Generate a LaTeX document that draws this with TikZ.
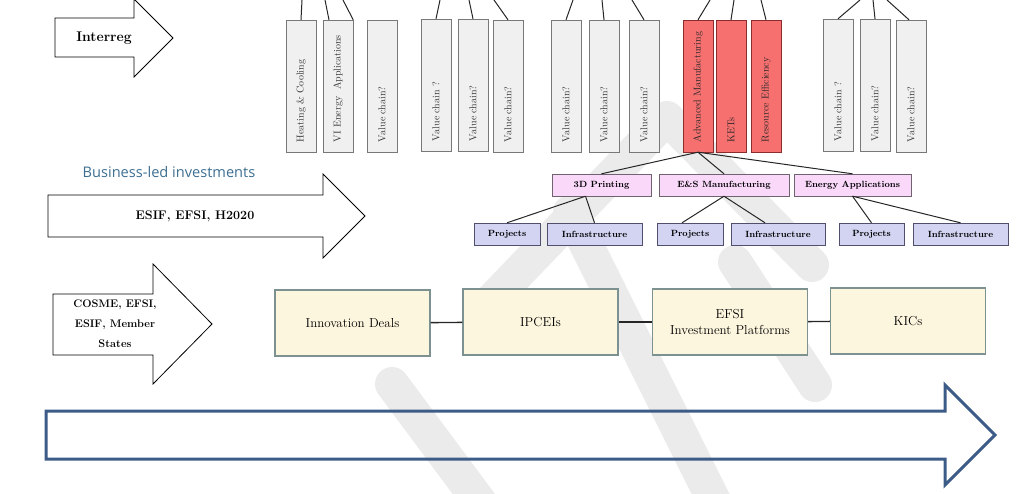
\documentclass[tikz,border=0pt]{standalone}
\usepackage{fontspec}
\newfontfamily\bizfont{Open Sans}
\usepackage{xcolor}
\usepackage{tikz}
\usetikzlibrary{calc,positioning}
\definecolor{chainFill}{RGB}{240,240,240}
\definecolor{chainLine}{RGB}{120,120,120}
\definecolor{ketFill}{RGB}{246,112,112}
\definecolor{ketLine}{RGB}{140,45,45}
\definecolor{techFill}{RGB}{250,216,250}
\definecolor{techLine}{RGB}{110,100,110}
\definecolor{projFill}{RGB}{210,212,242}
\definecolor{projLine}{RGB}{80,80,110}
\definecolor{dealFill}{RGB}{253,246,222}
\definecolor{dealLine}{RGB}{125,145,145}
\definecolor{timeLine}{RGB}{60,92,135}
\definecolor{bizText}{RGB}{60,110,145}
\colorlet{markGray}{gray!16}

\tikzset{
  chainbox/.style={draw=chainLine, fill=chainFill, minimum width=30pt, minimum height=132pt, inner sep=0pt},
  ketbox/.style={chainbox, draw=ketLine, fill=ketFill},
  chaintext/.style={rotate=90, anchor=west, inner sep=0pt, text=black!80, font=\fontsize{10}{11}\selectfont},
  techbox/.style={draw=techLine, fill=techFill, minimum height=22pt, inner sep=0pt, font=\fontsize{9}{10}\selectfont\bfseries},
  projbox/.style={techbox, draw=projLine, fill=projFill},
  dealbox/.style={draw=dealLine, fill=dealFill, line width=1.4pt, minimum width=155pt, minimum height=66pt, align=center, font=\fontsize{13}{16}\selectfont},
  fundarrow/.style={draw=black, line width=0.8pt, line join=miter},
  wmark/.style={markGray, line width=34pt, line cap=round, line join=round},
  link/.style={draw=black!85, line width=1pt}
}

\begin{document}
\begin{tikzpicture}[x=1pt, y=-1pt]
  \useasboundingbox (0,0) rectangle (1024,493);

  % watermark in the background
  \begin{scope}
    \clip (0,0) rectangle (1024,493);
    \draw[wmark] (492,300) -- (667,118) -- (812,265);
    \draw[wmark] (570,212) -- (716,505);
    \draw[wmark] (392,384) -- (482,505);
    \draw[wmark] (735,262) -- (815,385);
  \end{scope}

  % funding arrows on the left
  \draw[fundarrow] (55,18) -- (134,18) -- (134,-1) -- (173,38) -- (134,77) -- (134,57) -- (55,57) -- cycle;
  \node[font=\fontsize{14}{16}\selectfont\bfseries] (interreg) at (104,38) {Interreg};

  \node[text=bizText, font=\bizfont\fontsize{14.6}{16}\selectfont] (bizled) at (169,172) {Business-led investments};
  \draw[fundarrow] (48,195) -- (323,195) -- (323,174) -- (365,216) -- (323,258) -- (323,237) -- (48,237) -- cycle;
  \node[font=\fontsize{12.5}{14}\selectfont\bfseries] (esif) at (195,216) {ESIF, EFSI, H2020};

  \draw[fundarrow] (53,294) -- (153,294) -- (153,264) -- (212,324) -- (153,384) -- (153,355) -- (53,355) -- cycle;
  \node[align=center, font=\fontsize{11}{20}\selectfont\bfseries] (cosme) at (115,324) {COSME, EFSI,\\ESIF, Member\\States};

  % value chains (top row)
  \node[chainbox] (heat) at (301,86) {};
  \node[chainbox] (vie)  at (338,86) {};
  \node[chainbox] (vcA)  at (382,86) {};
  \node[chainbox] (vcB)  at (436,85) {};
  \node[chainbox] (vcC)  at (473,85) {};
  \node[chainbox] (vcD)  at (508,86) {};
  \node[chainbox] (vcE)  at (566,86) {};
  \node[chainbox] (vcF)  at (604,86) {};
  \node[chainbox] (vcG)  at (644,86) {};
  \node[ketbox]   (adv)  at (698,86) {};
  \node[ketbox]   (kets) at (731,86) {};
  \node[ketbox]   (resf) at (766,86) {};
  \node[chainbox] (vcH)  at (838,85) {};
  \node[chainbox] (vcI)  at (875,85) {};
  \node[chainbox] (vcJ)  at (911,86) {};

  \node[chaintext] at ([yshift=10pt]heat.south) {Heating \& Cooling};
  \node[chaintext] at ([yshift=10pt]vie.south)  {VI Energy~~Applications};
  \node[chaintext] at ([yshift=10pt]vcA.south)  {Value chain?};
  \node[chaintext] at ([yshift=10pt]vcB.south)  {Value chain ?};
  \node[chaintext] at ([yshift=10pt]vcC.south)  {Value chain?};
  \node[chaintext] at ([yshift=10pt]vcD.south)  {Value chain?};
  \node[chaintext] at ([yshift=10pt]vcE.south)  {Value chain?};
  \node[chaintext] at ([yshift=10pt]vcF.south)  {Value chain?};
  \node[chaintext] at ([yshift=10pt]vcG.south)  {Value chain?};
  \node[chaintext, text=black!85] at ([yshift=10pt]adv.south)  {Advanced Manufacturing};
  \node[chaintext, text=black!85] at ([yshift=10pt]kets.south) {KETs};
  \node[chaintext, text=black!85] at ([yshift=10pt]resf.south) {Resource Efficiency};
  \node[chaintext] at ([yshift=10pt]vcH.south)  {Value chain ?};
  \node[chaintext] at ([yshift=10pt]vcI.south)  {Value chain?};
  \node[chaintext] at ([yshift=10pt]vcJ.south)  {Value chain?};

  % parents above the page edge
  \coordinate (upA) at (302,0);  \coordinate (upB) at (325,0);  \coordinate (upC) at (343,0);
  \coordinate (upD) at (440,0);  \coordinate (upE) at (469,0);  \coordinate (upF) at (494,0);
  \coordinate (upG) at (573,0);  \coordinate (upH) at (602,0);  \coordinate (upI) at (632,0);
  \coordinate (upJ) at (710,0);  \coordinate (upK) at (734,0);  \coordinate (upL) at (761,0);
  \coordinate (upM) at (860,0);  \coordinate (upN) at (873,0);  \coordinate (upO) at (887,0);

  \draw[link] (heat.north) -- (upA);
  \draw[link] ([xshift=-9pt]vie.north) -- (upB);
  \draw[link] (vie.north east) -- (upC);
  \draw[link] (vcB.north) -- (upD);
  \draw[link] (vcC.north) -- (upE);
  \draw[link] (vcD.north) -- (upF);
  \draw[link] (vcE.north) -- (upG);
  \draw[link] (vcF.north) -- (upH);
  \draw[link] (vcG.north) -- (upI);
  \draw[link] (adv.north) -- (upJ);
  \draw[link] (kets.north) -- (upK);
  \draw[link] (resf.north) -- (upL);
  \draw[link] (vcH.north) -- (upM);
  \draw[link] (vcI.north) -- (upN);
  \draw[link] ([xshift=-2pt]vcJ.north) -- (upO);

  % technologies under Advanced Manufacturing
  \node[techbox, minimum width=99pt]  (print) at (601.5,185) {3D Printing};
  \node[techbox, minimum width=130pt] (esman) at (724,185)   {E\&S Manufacturing};
  \node[techbox, minimum width=117pt] (enapp) at (852.5,185) {Energy Applications};

  \node[projbox, minimum width=66pt] (projA)  at (507,234)   {Projects};
  \node[projbox, minimum width=95pt] (infraA) at (594.5,234) {Infrastructure};
  \node[projbox, minimum width=66pt] (projB)  at (690,234)   {Projects};
  \node[projbox, minimum width=94pt] (infraB) at (778,234)   {Infrastructure};
  \node[projbox, minimum width=65pt] (projC)  at (871.5,234) {Projects};
  \node[projbox, minimum width=95pt] (infraC) at (960.5,234) {Infrastructure};

  \draw[link] (adv.south) -- (print.north);
  \draw[link] (adv.south) -- (esman.north);
  \draw[link] (adv.south) -- (enapp.north);
  \draw[link] ([xshift=-16pt]print.south) -- (projA.north);
  \draw[link] ([xshift=-16pt]print.south) -- (infraA.north);
  \draw[link] (esman.south) -- ([xshift=-8pt]projB.north);
  \draw[link] (esman.south) -- ([xshift=-13pt]infraB.north);
  \draw[link] (enapp.south) -- (projC.north);
  \draw[link] (enapp.south) -- (infraC.north);

  % instruments
  \node[dealbox] (deals) at (352.5,323) {Innovation Deals};
  \node[dealbox] (ipcei) at (540.5,322) {IPCEIs};
  \node[dealbox] (efsi)  at (730,322)   {EFSI\\Investment Platforms};
  \node[dealbox] (kics)  at (908,321)   {KICs};
  \draw[link, line width=1.4pt] (deals) -- (ipcei);
  \draw[link, line width=1.4pt] (ipcei) -- (efsi);
  \draw[link, line width=1.4pt] (efsi) -- (kics);

  % time line arrow
  \draw[draw=timeLine, line width=3pt, line join=miter] (46,411) -- (945,411) -- (945,385) -- (995,435) -- (945,485) -- (945,459) -- (46,459) -- cycle;
\end{tikzpicture}
\end{document}
